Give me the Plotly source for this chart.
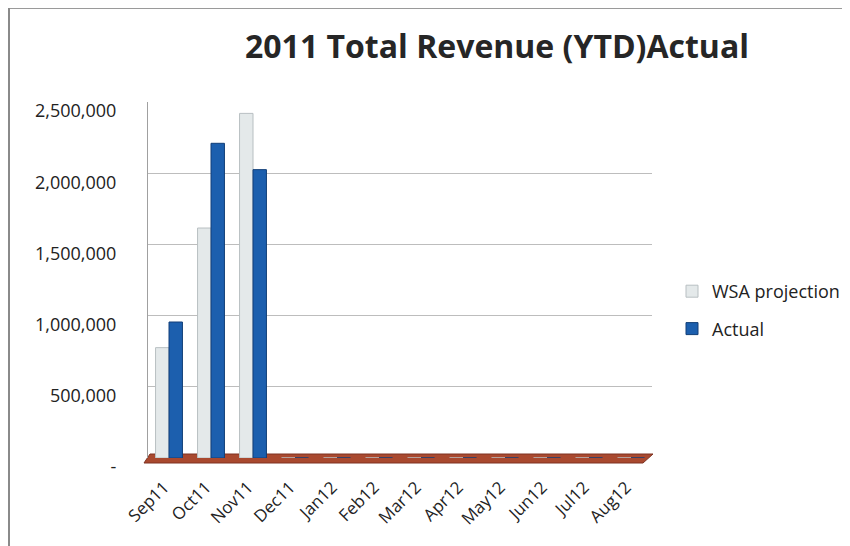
import plotly.graph_objects as go

categories = ["Sep11", "Oct11", "Nov11", "Dec11", "Jan12", "Feb12",
              "Mar12", "Apr12", "May12", "Jun12", "Jul12", "Aug12"]
wsa_projection = [775000, 1615000, 2420000, 0, 0, 0, 0, 0, 0, 0, 0, 0]
actual = [955000, 2210000, 2025000, 0, 0, 0, 0, 0, 0, 0, 0, 0]
y_tickvals = [0, 500000, 1000000, 1500000, 2000000, 2500000]
y_ticktext = ["-", "500,000", "1,000,000", "1,500,000", "2,000,000", "2,500,000"]

FONT = "'Open Sans', Calibri, 'Noto Sans', sans-serif"

W, H = 850, 546
OFF = 8  # page body margin
# plot area in screen pixels
PX0, PX1, PY0, PY1 = 148, 652, 102, 458
ML, MR = PX0 - OFF, W - (PX1 - OFF)
MT, MB = PY0 - OFF, H - (PY1 - OFF)
PW, PH = PX1 - PX0, PY1 - PY0


def px(sx):
    return (sx - PX0) / PW


def py(sy):
    return (PY1 - sy) / PH


fig = go.Figure()
fig.add_trace(go.Bar(
    x=categories, y=wsa_projection, name="WSA projection",
    legendgroup="a",
    marker=dict(color="#e4e9ea", line=dict(color="#b8bfc2", width=1)),
))
fig.add_trace(go.Bar(
    x=categories, y=actual, name="Actual",
    legendgroup="b",
    marker=dict(color="#1c5fae", line=dict(color="#123f78", width=1)),
))

shapes = [
    # 3D-like floor
    dict(type="path", xref="paper", yref="paper",
         path=f"M {px(144)} {py(463)} L {px(643)} {py(463)} L {px(653)} {py(454)} L {px(150)} {py(454)} Z",
         fillcolor="#a9492f", line=dict(color="#7e3322", width=1), layer="below"),
    # chart frame lines
    dict(type="line", xref="paper", yref="paper",
         x0=px(9), x1=px(860), y0=py(8), y1=py(8),
         line=dict(color="#9a9a9a", width=2)),
    dict(type="line", xref="paper", yref="paper",
         x0=px(9), x1=px(9), y0=py(8), y1=py(560),
         line=dict(color="#8a8a8a", width=2)),
]

fig.update_layout(
    width=W, height=H,
    paper_bgcolor="white", plot_bgcolor="white",
    margin=dict(l=ML, r=MR, t=MT, b=MB, autoexpand=False),
    font=dict(family=FONT, color="#222222"),
    title=dict(text="<b>2011 Total Revenue (YTD)Actual</b>",
               x=(497 - OFF) / W, xanchor="center",
               y=1 - (47 - OFF) / H, yanchor="middle",
               font=dict(size=32, family=FONT, color="#262626")),
    barmode="group", bargap=0.36, bargroupgap=0.0,
    showlegend=True,
    legend=dict(x=px(672), y=py(310), xanchor="left", yanchor="middle",
                font=dict(size=18, family=FONT, color="#222222"),
                tracegroupgap=11, itemwidth=30),
    xaxis=dict(showgrid=False, showline=False, ticks="", tickangle=-45,
               tickfont=dict(size=17, family=FONT, color="#222222"),
               ticklabelstandoff=15, ticklabelshift=-5, automargin=False),
    yaxis=dict(range=[0, 2500000], tickvals=y_tickvals, ticktext=y_ticktext,
               showgrid=True, gridcolor="#bdbdbd", gridwidth=1,
               showline=True, linecolor="#a0a0a0", linewidth=1,
               zeroline=False, ticks="", automargin=False,
               tickfont=dict(size=18, family=FONT, color="#222222"),
               ticklabelstandoff=27, ticklabelshift=9),
    shapes=shapes,
)

fig.write_html("out.html")
